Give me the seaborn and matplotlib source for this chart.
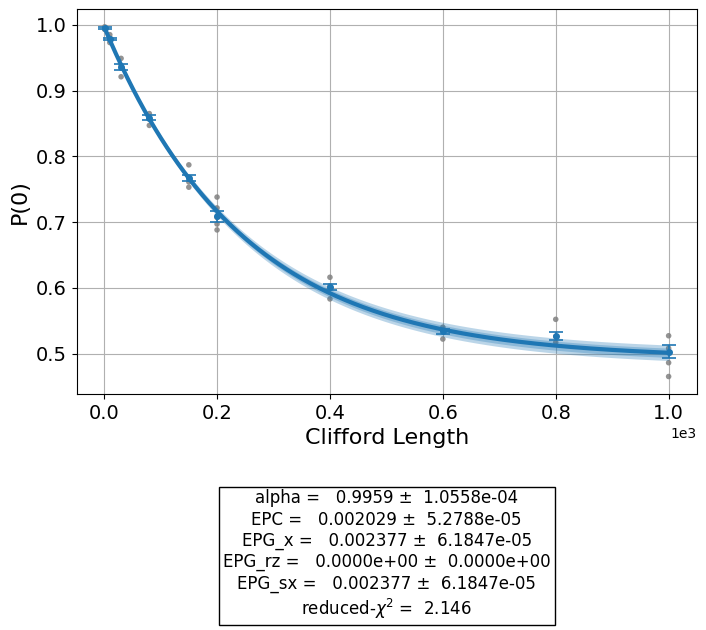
import numpy as np
import pandas as pd
import matplotlib
matplotlib.use("Agg")
import matplotlib.pyplot as plt
import seaborn as sns
from matplotlib.ticker import ScalarFormatter

# ---- data ----
lengths = [1, 10, 30, 80, 150, 200, 400, 600, 800, 1000]
raw_points = [
    [0.997, 0.994, 0.993],
    [0.985, 0.980, 0.973],
    [0.949, 0.938, 0.921],
    [0.865, 0.859, 0.847],
    [0.787, 0.768, 0.761, 0.753],
    [0.738, 0.7215, 0.707, 0.697, 0.688],
    [0.616, 0.603, 0.600, 0.583],
    [0.540, 0.535, 0.522],
    [0.552, 0.526, 0.517],
    [0.527, 0.508, 0.486, 0.465],
]
mean_vals = [0.995, 0.9787, 0.936, 0.8585, 0.767, 0.709, 0.601, 0.534, 0.526, 0.503]
mean_errs = [0.0015, 0.002, 0.005, 0.004, 0.004, 0.0085, 0.0045, 0.004, 0.006, 0.010]

# fit parameters (from report)
fit_alpha = 0.995942
fit_A = 0.5045
fit_B = 0.4925
fit_sigma_B = 0.0024
band_sigmas = [5.0, 3.0]
band_alphas = [0.3, 0.3]

report_lines = [
    "alpha =   0.9959 \u00b1  1.0558e-04",
    "EPC =   0.002029 \u00b1  5.2788e-05",
    "EPG_x =   0.002377 \u00b1  6.1847e-05",
    "EPG_rz =   0.0000e+00 \u00b1  0.0000e+00",
    "EPG_sx =   0.002377 \u00b1  6.1847e-05",
    "reduced-$\\chi^2$ =  2.146",
]

# ---- build tables ----
raw_df = pd.DataFrame(
    [(x, v) for x, vals in zip(lengths, raw_points) for v in vals],
    columns=["x", "y"],
)
xfit = np.linspace(min(lengths), max(lengths), 400)
yfit = fit_A * fit_alpha ** xfit + fit_B
sig = fit_sigma_B * (1 - fit_alpha ** xfit)
fit_df = pd.DataFrame({"x": xfit, "y": yfit})

fig = plt.figure(figsize=(7.06, 6.30), dpi=100)
ax = fig.add_axes([0.1084, 0.3746, 0.8786, 0.6106])

sns.scatterplot(data=raw_df, x="x", y="y", ax=ax, color="gray", s=16,
                edgecolor="none", alpha=0.85, zorder=2, legend=False)
for ns, al in zip(band_sigmas, band_alphas):
    ax.fill_between(xfit, yfit - ns * sig, yfit + ns * sig,
                    color="C0", alpha=al, linewidth=0, zorder=3)
sns.lineplot(data=fit_df, x="x", y="y", ax=ax, color="C0", linewidth=3,
             zorder=4, legend=False)
ax.errorbar(lengths, mean_vals, yerr=mean_errs, fmt="o", color="C0",
            markersize=4, capsize=5, elinewidth=1.2, capthick=1.2, zorder=5)

ax.set_xlabel("Clifford Length", fontsize=16)
ax.set_ylabel("P(0)", fontsize=16)
ax.tick_params(labelsize=14)
ax.grid(True, color="#b0b0b0", linewidth=0.8)
ax.set_axisbelow(True)

fmt = ScalarFormatter(useMathText=False)
fmt.set_powerlimits((3, 3))
ax.xaxis.set_major_formatter(fmt)
ax.xaxis.get_offset_text().set_fontsize(10)

ax.margins(x=0.05, y=0.05)

fig.text(0.5477, 0.1190, "\n".join(report_lines), ha="center", va="center",
         fontsize=12, linespacing=1.22,
         bbox=dict(boxstyle="square,pad=0.25", facecolor="white",
                   edgecolor="black", linewidth=1))

fig.savefig("out.png", dpi=100)
